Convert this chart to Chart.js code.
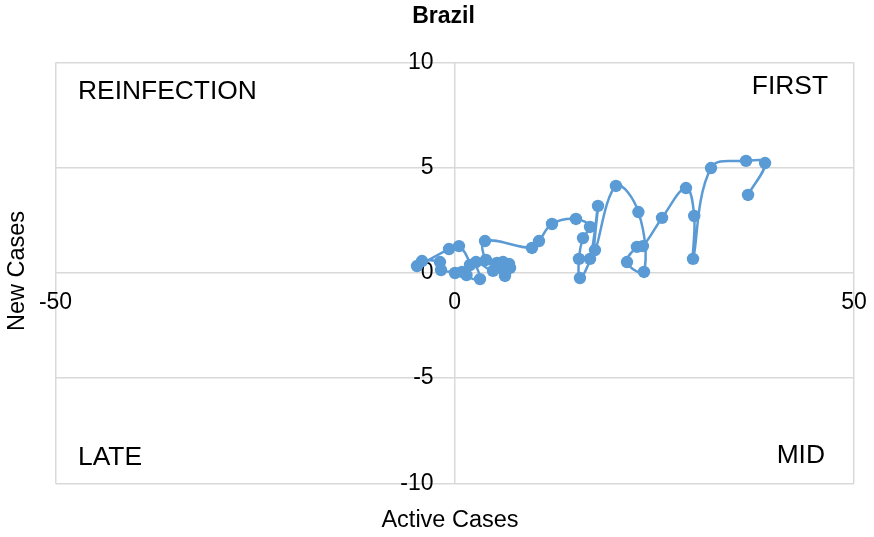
<!DOCTYPE html>
<html>
<head>
<meta charset="utf-8">
<script src="https://cdn.jsdelivr.net/npm/chart.js@4/dist/chart.umd.min.js"></script>
<style>
  html, body { margin: 0; padding: 0; background: #ffffff; }
  #wrap { width: 874px; height: 537px; }
</style>
</head>
<body>
<div id="wrap"><canvas id="c" width="874" height="537"></canvas></div>
<script>
// ---- Data ----
const chartTitle = 'Brazil';
const xAxisTitle = 'Active Cases';
const yAxisTitle = 'New Cases';
const quadrantLabels = ['REINFECTION', 'FIRST', 'LATE', 'MID'];

const activeCases = [
  0.03, 0.91, -1.72, -1.85, -4.10, -4.73, -0.72, 0.53, 1.91, 1.47,
  3.16, 2.66, 4.79, 5.29, 6.04, 6.92, 6.29, 6.79, 5.67, 3.91,
  3.79, 9.67, 10.55, 12.18, 15.18, 16.94, 16.06, 15.56, 15.68, 16.94,
  17.94, 17.56, 20.19, 23.00, 23.70, 21.57, 22.82, 23.57, 25.96, 28.96,
  29.99, 29.84, 32.09, 36.48, 38.86, 36.73
];
const newCases = [
  0.00, 0.05, 0.14, 0.52, 0.57, 0.33, 1.14, 1.28, 0.38, -0.10,
  -0.29, 0.52, 0.10, 0.48, 0.52, 0.24, -0.14, 0.43, 0.24, 0.62,
  1.52, 1.19, 1.52, 2.33, 2.57, 2.19, 1.66, 0.67, -0.24, 0.67,
  3.19, 1.09, 4.14, 2.90, 0.05, 0.52, 1.24, 1.28, 2.62, 4.04,
  2.71, 0.67, 4.99, 5.33, 5.23, 3.71
];

const xTicks = [-50, 0, 50];
const yTicks = [-10, -5, 0, 5, 10];

const points = activeCases.map((x, i) => ({ x: x, y: newCases[i] }));

const FONT = "'Liberation Sans', Arial, sans-serif";
const GRID = '#d9d9d9';
const BLUE = '#5b9bd5';

const overlayText = {
  id: 'overlayText',
  afterDraw(chart) {
    const ctx = chart.ctx;
    const a = chart.chartArea;
    ctx.save();
    ctx.fillStyle = '#000000';
    ctx.textBaseline = 'middle';
    // chart title
    ctx.font = 'bold 23px ' + FONT;
    ctx.textAlign = 'center';
    ctx.fillText(chartTitle, 443.5, 17);
    // quadrant labels
    ctx.font = '26.4px ' + FONT;
    ctx.textAlign = 'left';
    ctx.fillText(quadrantLabels[0], a.left + 22.5, a.top + 29);
    ctx.fillText(quadrantLabels[2], a.left + 22.5, a.bottom - 26);
    ctx.textAlign = 'right';
    ctx.fillText(quadrantLabels[1], a.right - 26, a.top + 24.5);
    ctx.fillText(quadrantLabels[3], a.right - 29, a.bottom - 28);
    // axis titles
    ctx.font = '23.5px ' + FONT;
    ctx.textAlign = 'center';
    ctx.fillText(xAxisTitle, 450, 521);
    ctx.translate(18, 271);
    ctx.rotate(-Math.PI / 2);
    ctx.fillText(yAxisTitle, 0, 0);
    ctx.restore();
  }
};

new Chart(document.getElementById('c'), {
  type: 'scatter',
  data: {
    datasets: [{
      data: points,
      showLine: true,
      tension: 0.4,
      borderColor: BLUE,
      backgroundColor: BLUE,
      borderWidth: 2.5,
      pointRadius: 6.2,
      pointBorderWidth: 0,
      pointBackgroundColor: BLUE,
      pointHoverRadius: 6
    }]
  },
  options: {
    responsive: false,
    animation: false,
    events: [],
    layout: { padding: { left: 55.5, right: 20, top: 62.7, bottom: 53.7 } },
    plugins: {
      legend: { display: false },
      tooltip: { enabled: false },
      title: { display: false }
    },
    scales: {
      x: {
        type: 'linear',
        position: { y: 0 },
        min: -50, max: 50,
        afterBuildTicks: (s) => { s.ticks = xTicks.map(v => ({ value: v })); },
        afterFit: (s) => { s.paddingLeft = 0; s.paddingRight = 0; },
        grid: { color: GRID, lineWidth: 1.5, drawTicks: false },
        border: { display: false },
        ticks: { color: '#000000', font: { family: FONT, size: 23 }, padding: 16, maxRotation: 0, autoSkip: false }
      },
      y: {
        type: 'linear',
        position: { x: -2.65 },
        min: -10, max: 10,
        afterBuildTicks: (s) => { s.ticks = yTicks.map(v => ({ value: v })); },
        afterFit: (s) => { s.paddingTop = 0; s.paddingBottom = 0; },
        grid: { color: GRID, lineWidth: 1.5, drawTicks: false },
        border: { display: false },
        ticks: { color: '#000000', font: { family: FONT, size: 23 }, autoSkip: false }
      }
    }
  },
  plugins: [overlayText]
});
</script>
</body>
</html>
